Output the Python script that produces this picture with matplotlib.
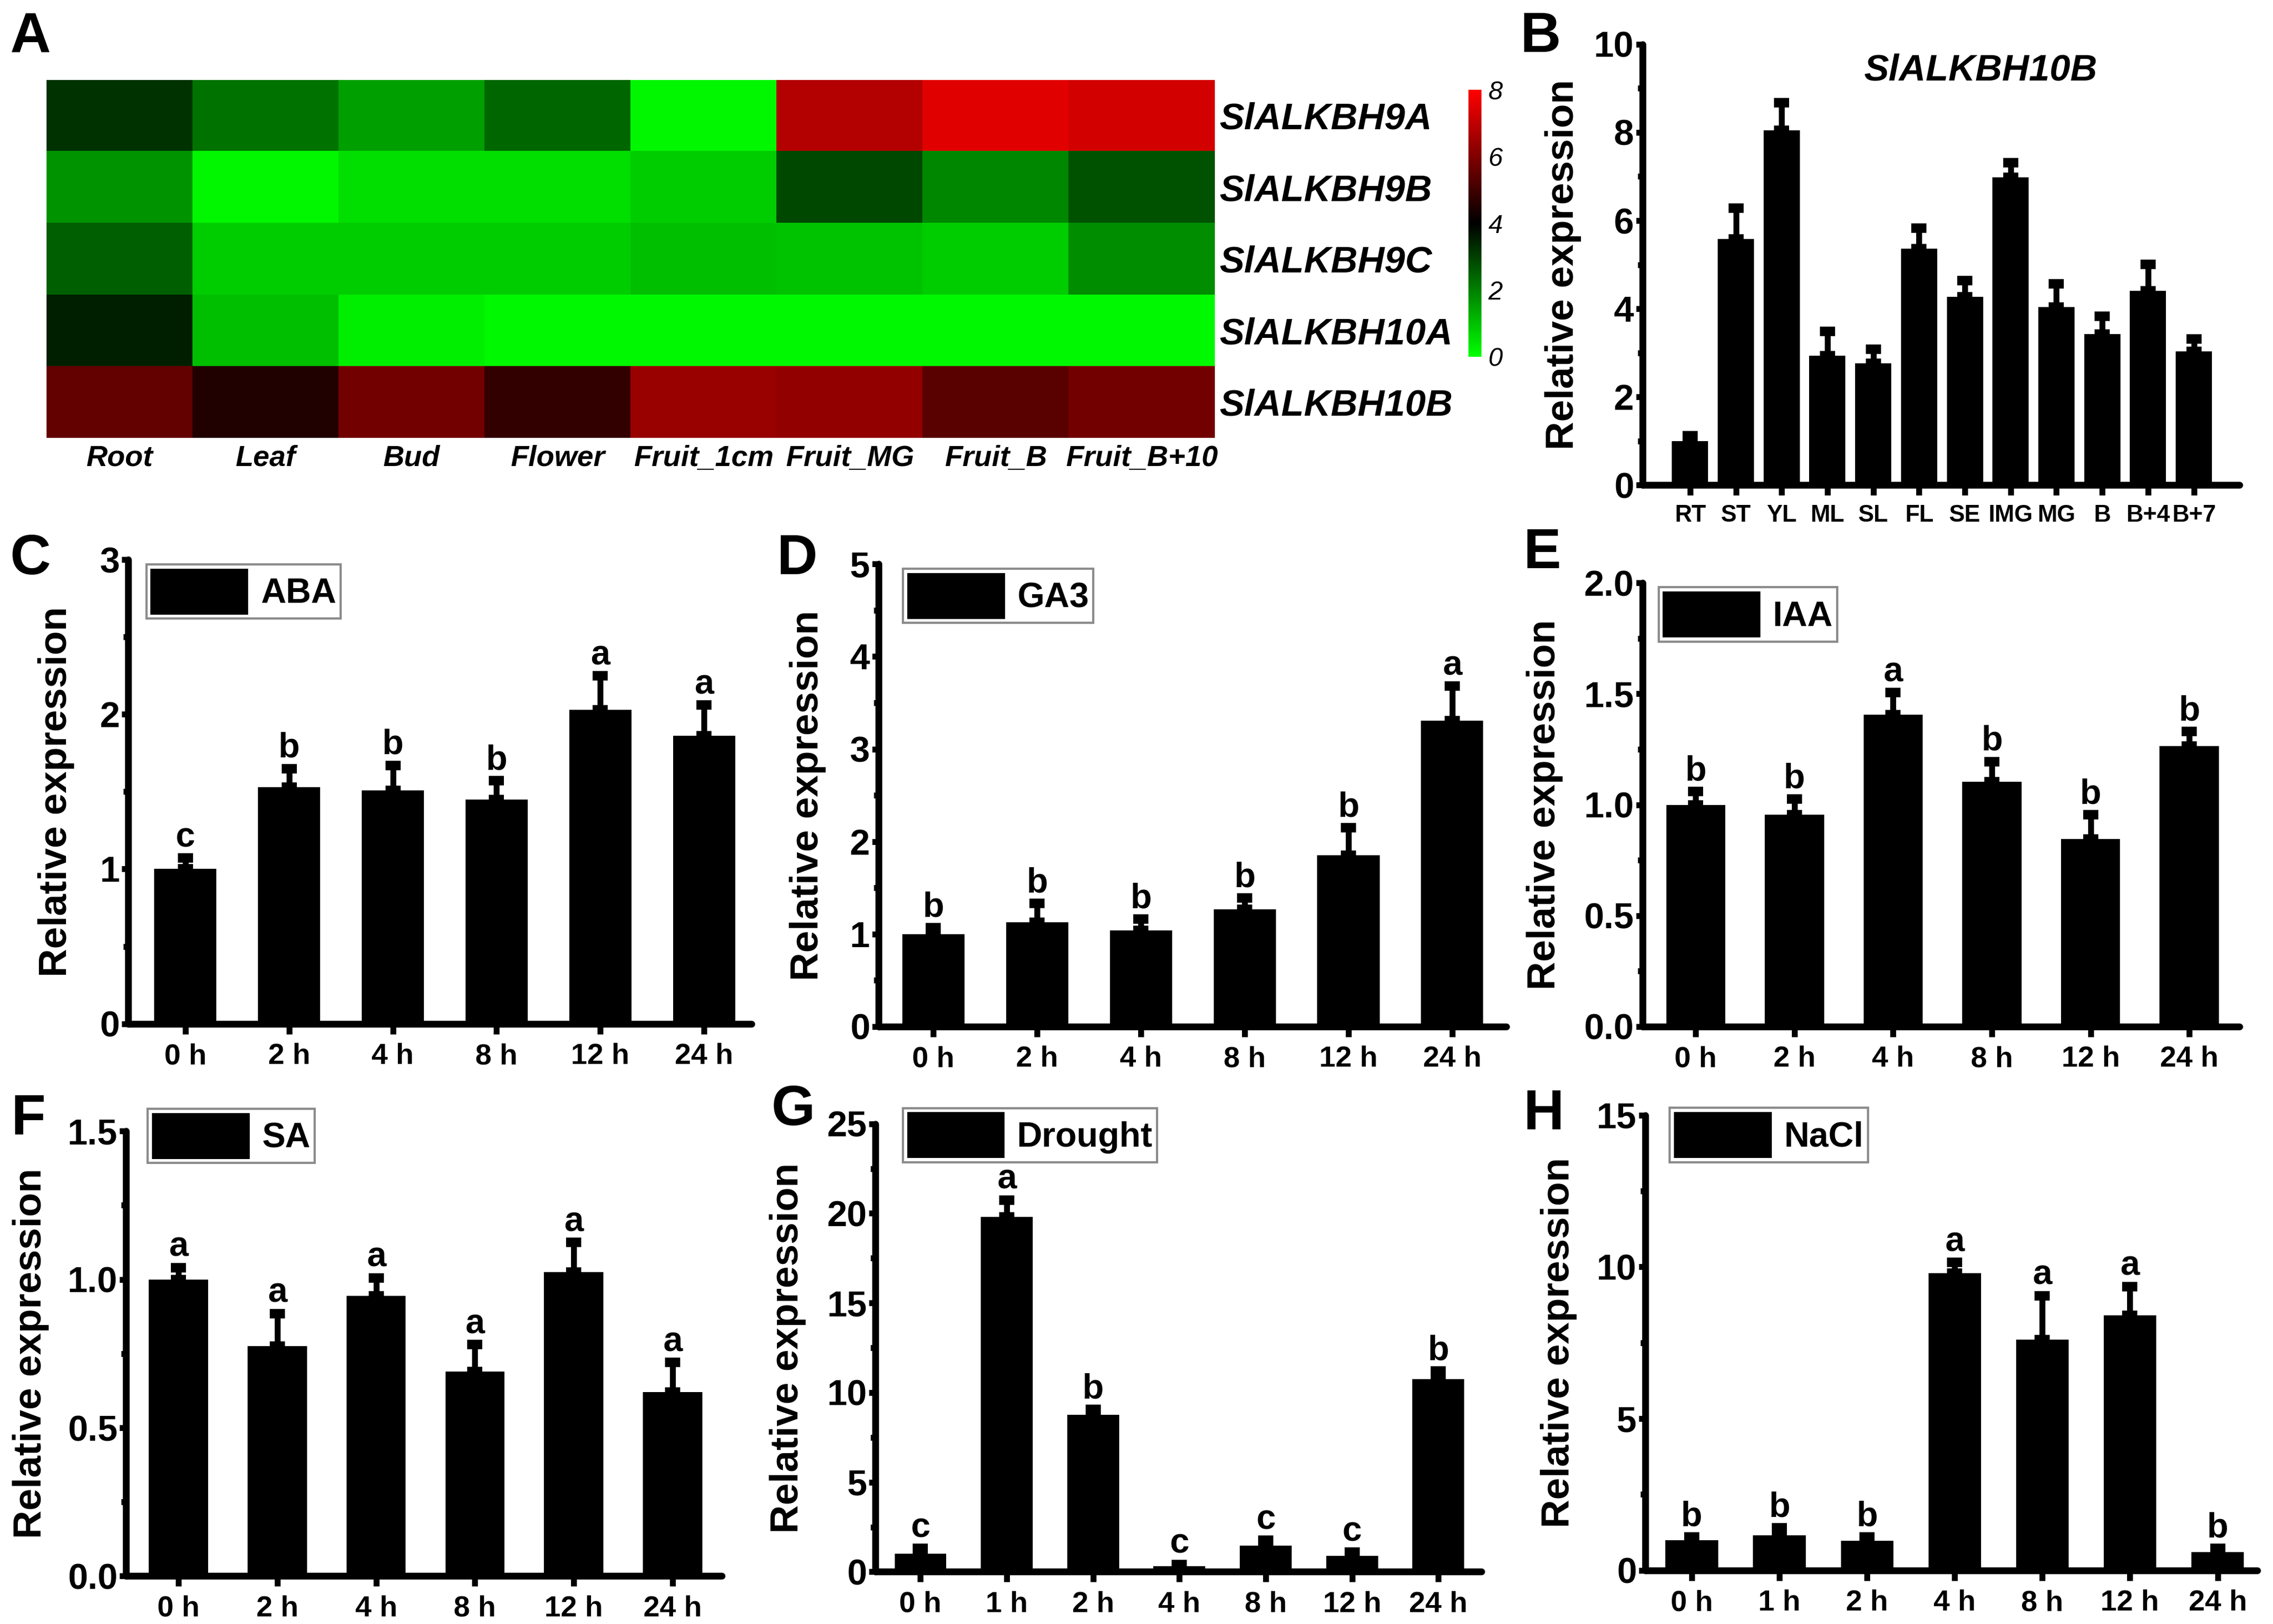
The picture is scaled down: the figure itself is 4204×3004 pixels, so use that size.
import numpy as np
import matplotlib
matplotlib.use('Agg')
import matplotlib.pyplot as plt
from matplotlib.colors import LinearSegmentedColormap
from matplotlib.ticker import MultipleLocator, FormatStrFormatter

plt.rcParams['font.family'] = ['Liberation Sans', 'DejaVu Sans']
plt.rcParams['font.weight'] = 'bold'
plt.rcParams['axes.labelweight'] = 'bold'

# ---- panel A heatmap
genes = ['SlALKBH9A', 'SlALKBH9B', 'SlALKBH9C', 'SlALKBH10A', 'SlALKBH10B']
tissues = ['Root', 'Leaf', 'Bud', 'Flower', 'Fruit_1cm', 'Fruit_MG', 'Fruit_B', 'Fruit_B+10']
heat_9A = [3.2, 2.2, 1.5, 2.4, 0.15, 6.8, 7.5, 7.3]
heat_9B = [1.7, 0.15, 0.5, 0.5, 0.8, 2.9, 1.9, 2.7]
heat_9C = [2.5, 0.8, 0.8, 0.8, 1.0, 0.95, 0.8, 1.8]
heat_10A = [3.5, 1.0, 0.25, 0.1, 0.1, 0.1, 0.1, 0.1]
heat_10B = [5.55, 4.5, 5.8, 4.8, 6.4, 6.3, 5.4, 5.8]

# ---- panel B tissues
tis_labels = ['RT', 'ST', 'YL', 'ML', 'SL', 'FL', 'SE', 'IMG', 'MG', 'B', 'B+4', 'B+7']
tis_mean = [1.0, 5.58, 8.05, 2.94, 2.76, 5.36, 4.27, 6.98, 4.04, 3.43, 4.41, 3.03]
tis_err = [0.12, 0.70, 0.62, 0.55, 0.32, 0.47, 0.37, 0.33, 0.53, 0.40, 0.60, 0.28]

# ---- hormone / stress time courses
t6 = ['0 h', '2 h', '4 h', '8 h', '12 h', '24 h']
t7 = ['0 h', '1 h', '2 h', '4 h', '8 h', '12 h', '24 h']

aba_mean = [1.0, 1.53, 1.51, 1.45, 2.03, 1.86]
aba_err = [0.07, 0.12, 0.16, 0.12, 0.22, 0.20]
aba_sig = ['c', 'b', 'b', 'b', 'a', 'a']

ga_mean = [1.0, 1.13, 1.04, 1.27, 1.85, 3.31]
ga_err = [0.07, 0.20, 0.12, 0.12, 0.30, 0.37]
ga_sig = ['b', 'b', 'b', 'b', 'b', 'a']

iaa_mean = [1.0, 0.955, 1.405, 1.105, 0.845, 1.265]
iaa_err = [0.06, 0.07, 0.10, 0.09, 0.11, 0.065]
iaa_sig = ['b', 'b', 'a', 'b', 'b', 'b']

sa_mean = [1.0, 0.775, 0.945, 0.69, 1.025, 0.62]
sa_err = [0.04, 0.11, 0.06, 0.09, 0.10, 0.10]
sa_sig = ['a', 'a', 'a', 'a', 'a', 'a']

dr_mean = [1.0, 19.8, 8.75, 0.3, 1.45, 0.9, 10.75]
dr_err = [0.3, 0.95, 0.3, 0.12, 0.3, 0.2, 0.45]
dr_sig = ['c', 'a', 'b', 'c', 'c', 'c', 'b']

na_mean = [1.0, 1.15, 0.98, 9.8, 7.6, 8.4, 0.6]
na_err = [0.1, 0.25, 0.12, 0.35, 1.45, 0.95, 0.12]
na_sig = ['b', 'b', 'b', 'a', 'a', 'a', 'b']

W, H = 1568.0, 1120.0


def rect(x0, x1, ytop, ybot):
    return [x0 / W, 1 - ybot / H, (x1 - x0) / W, (ybot - ytop) / H]


fig = plt.figure(figsize=(4204 / 300, 3004 / 300), dpi=300)

# heatmap
cmap = LinearSegmentedColormap.from_list('gkr', ['#00ff00', '#000000', '#ff0000'])
heat = np.array([heat_9A, heat_9B, heat_9C, heat_10A, heat_10B])
axh = fig.add_axes(rect(32, 838, 55, 302))
im = axh.imshow(heat, cmap=cmap, vmin=0, vmax=8, aspect='auto', interpolation='nearest')
for s in axh.spines.values():
    s.set_visible(False)
axh.set_xticks(range(len(tissues)))
axh.set_xticklabels(tissues, fontsize=13, style='italic', fontweight='bold')
axh.set_yticks(range(len(genes)))
axh.set_yticklabels(genes, fontsize=16.5, style='italic', fontweight='bold')
axh.yaxis.tick_right()
axh.tick_params(length=0, axis='x', pad=3)
axh.tick_params(length=0, axis='y', pad=2)

cax = fig.add_axes(rect(1013, 1022, 62, 246))
cb = fig.colorbar(im, cax=cax, ticks=[0, 2, 4, 6, 8])
cb.outline.set_visible(False)
cax.tick_params(length=0, pad=3)
for t in cax.get_yticklabels():
    t.set_fontstyle('italic')
    t.set_fontweight('normal')
    t.set_fontsize(11.5)


def bar_panel(r, labels, means, errs, ymax, major, minor, fmt, width, xl, xr,
              ylab_x, sig=None, legend=None, leg_xy=None, xfs=13):
    ax = fig.add_axes(r)
    x = np.arange(len(labels))
    bars = ax.bar(x, means, width=width, color='black', zorder=2)
    ax.errorbar(x, means, yerr=[np.zeros(len(errs)), errs], fmt='none', ecolor='black',
                elinewidth=2.6, capsize=3.3, capthick=4.2, zorder=3)
    if sig is not None:
        for xi, m, e, s in zip(x, means, errs, sig):
            ax.annotate(s, (xi, m + e), xytext=(0, 5), textcoords='offset points',
                        ha='center', va='baseline', fontsize=15.5, fontweight='bold')
    ax.set_xlim(xl, len(labels) - 1 + xr)
    ax.set_ylim(0, ymax)
    ax.set_xticks(x)
    ax.set_xticklabels(labels, fontsize=xfs, fontweight='bold')
    ax.yaxis.set_major_locator(MultipleLocator(major))
    ax.yaxis.set_minor_locator(MultipleLocator(minor))
    ax.yaxis.set_major_formatter(FormatStrFormatter(fmt))
    ax.tick_params(axis='x', direction='out', length=4.5, width=2.6, pad=4)
    ax.tick_params(axis='y', which='major', direction='out', length=3, width=2.6, pad=0.8,
                   labelsize=16)
    ax.tick_params(axis='y', which='minor', direction='out', length=2.2, width=2.6)
    for side in ['top', 'right']:
        ax.spines[side].set_visible(False)
    for side in ['left', 'bottom']:
        ax.spines[side].set_linewidth(3)
        ax.spines[side].set_capstyle('round')
    ax.set_ylabel('Relative expression', fontsize=17.5, fontweight='bold')
    ax.yaxis.set_label_coords(ylab_x, 0.5)
    if legend is not None:
        lg = ax.legend([bars], [legend], loc='upper left', bbox_to_anchor=leg_xy,
                       frameon=True, fancybox=False, edgecolor='#8c8c8c', framealpha=1,
                       borderpad=0.12, handlelength=2.8, handleheight=1.65,
                       handletextpad=0.35, borderaxespad=0,
                       prop={'size': 15.5, 'weight': 'bold'})
        lg.get_frame().set_linewidth(1.0)
    return ax


axB = bar_panel(rect(1133, 1545, 30.5, 334.6), tis_labels, tis_mean, tis_err, 10, 2, 1, '%d',
                0.79, -1.04, 1.0, -0.102, xfs=10.5)
axB.text(0.566, 0.94, 'SlALKBH10B', transform=axB.transAxes, ha='center', va='center',
         fontsize=16.5, fontweight='bold', style='italic')

bar_panel(rect(88.5, 518.6, 386, 706), t6, aba_mean, aba_err, 3, 1, 0.5, '%d',
          0.6, -0.55, 0.46, -0.086, aba_sig, 'ABA', (0.029, 0.99))
bar_panel(rect(606, 1039, 389, 708), t6, ga_mean, ga_err, 5, 1, 0.5, '%d',
          0.6, -0.53, 0.52, -0.083, ga_sig, 'GA3', (0.039, 0.99))
bar_panel(rect(1133, 1545, 402, 708), t6, iaa_mean, iaa_err, 2.0, 0.5, 0.25, '%.1f',
          0.6, -0.54, 0.51, -0.133, iaa_sig, 'IAA', (0.027, 0.99))
bar_panel(rect(87, 498, 780, 1087), t6, sa_mean, sa_err, 1.5, 0.5, 0.25, '%.1f',
          0.6, -0.53, 0.5, -0.129, sa_sig, 'SA', (0.036, 1.05))
bar_panel(rect(604, 1022, 775, 1084), t7, dr_mean, dr_err, 25, 5, 2.5, '%d',
          0.6, -0.52, 0.5, -0.115, dr_sig, 'Drought', (0.045, 1.035))
bar_panel(rect(1135, 1557, 769, 1083), t7, na_mean, na_err, 15, 5, 2.5, '%d',
          0.6, -0.53, 0.45, -0.111, na_sig, 'NaCl', (0.04, 1.016))

# panel letters
for letter, lx, ly in [('A', 7, 8), ('B', 1049, 8), ('C', 7, 368), ('D', 536, 368),
                       ('E', 1051, 364), ('F', 8, 754), ('G', 532, 748), ('H', 1051, 751)]:
    fig.text(lx / W, 1 - ly / H, letter, ha='left', va='top', fontsize=25, fontweight='bold')

fig.savefig('out.png', dpi=300)
